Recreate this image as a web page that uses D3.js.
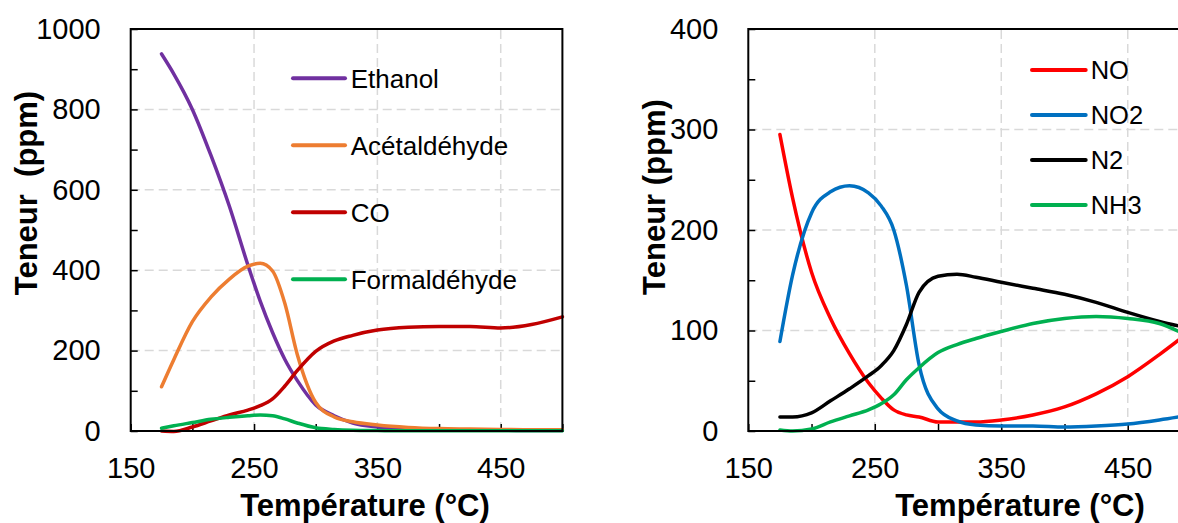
<!DOCTYPE html>
<html>
<head>
<meta charset="utf-8">
<script src="https://cdn.jsdelivr.net/npm/d3@7"></script>
<style>
  html, body { margin: 0; padding: 0; background: #fff; }
  svg { display: block; }
  text { font-family: "Liberation Sans", Arial, sans-serif; fill: #000; }
</style>
</head>
<body>
<svg id="chart" width="1178" height="523"></svg>
<script>
// ---------- data ----------
const temps = [175, 185, 200, 215, 230, 245, 255, 265, 275, 285, 300, 315, 330, 350, 375, 400, 425, 450, 475, 500];

// left panel (ppm)
const ethanol      = [938, 888, 800, 686, 559, 413, 323, 245, 178, 126, 65, 38, 20, 10, 5, 3, 2, 2, 1, 1];
const acetaldehyde = [110, 178, 272, 333, 378, 410, 417, 398, 317, 191, 71, 35, 23, 15, 9, 6, 5, 4, 3, 3];
const co           = [0, -1, 10, 25, 40, 52, 63, 80, 112, 150, 198, 224, 238, 251, 258, 260, 260, 256, 265, 284];
const formaldehyde = [7, 13, 21, 29, 34, 38, 40, 38, 30, 20, 8, 4, 2, 1, 0.5, 0.5, 0.5, 0.5, 0.5, 0.5];

// right panel (ppm)
const no  = [295, 232, 158, 112, 77, 48, 33, 21, 16, 14, 9, 9, 9, 11, 16, 24, 37, 54, 76, 100];
const no2 = [89, 155, 217, 238, 244, 237, 224, 200, 145, 66, 22, 10, 6, 5, 5, 4, 5, 7, 11, 16];
const n2  = [14, 14, 18, 30, 42, 55, 65, 80, 106, 138, 154, 156, 153, 148, 142, 136, 128, 118, 109, 102];
const nh3 = [1, 0, 2, 9, 15, 21, 27, 36, 51, 63, 78, 86, 92, 99, 107, 112, 114, 112, 107, 93];

const leftNames  = ["Ethanol", "Acétaldéhyde", "CO", "Formaldéhyde"];
const rightNames = ["NO", "NO2", "N2", "NH3"];
const leftColors  = ["#7030A0", "#ED7D31", "#C00000", "#00B050"];
const rightColors = ["#FF0000", "#0070C0", "#000000", "#00B050"];

const xTicks = [150, 200, 250, 300, 350, 400, 450, 500];
const xLabels = [150, 250, 350, 450];
const xGrid = [250, 350, 450];
const leftYTicks = [0, 100, 200, 300, 400, 500, 600, 700, 800, 900, 1000];
const leftYLabels = [0, 200, 400, 600, 800, 1000];
const leftYGrid = [200, 400, 600, 800];
const rightYTicks = [0, 50, 100, 150, 200, 250, 300, 350, 400];
const rightYLabels = [0, 100, 200, 300, 400];
const rightYGrid = [100, 200, 300];

const xTitle = "Température (°C)";

// ---------- drawing ----------
const svg = d3.select("#chart");

function panel(cfg) {
  const x = d3.scaleLinear().domain([150, 500]).range(cfg.xr);
  const y = d3.scaleLinear().domain([0, cfg.ymax]).range([431, 29]);
  const g = svg.append("g");

  // grid
  g.selectAll(".vg").data(xGrid).join("line")
    .attr("x1", d => x(d)).attr("x2", d => x(d))
    .attr("y1", y(0)).attr("y2", y(cfg.ymax))
    .attr("stroke", "#d9d9d9").attr("stroke-width", 1.5).attr("stroke-dasharray", "9,5");
  g.selectAll(".hg").data(cfg.yGrid).join("line")
    .attr("x1", x(150)).attr("x2", x(500))
    .attr("y1", d => y(d)).attr("y2", d => y(d))
    .attr("stroke", "#d9d9d9").attr("stroke-width", 1.5).attr("stroke-dasharray", "9,5");

  // axes
  const yAxis = d3.axisLeft(y).tickValues(cfg.yTicks)
    .tickFormat(d => cfg.yLabels.includes(d) ? String(d) : "")
    .tickSizeInner(-7).tickSizeOuter(0).tickPadding(30);
  const ya = g.append("g").attr("transform", `translate(${x(150)},0)`).call(yAxis);
  const xAxis = d3.axisBottom(x).tickValues(xTicks)
    .tickFormat(d => xLabels.includes(d) ? String(d) : "")
    .tickSizeInner(-7).tickSizeOuter(0).tickPadding(26);
  const xa = g.append("g").attr("transform", `translate(0,${y(0)})`).call(xAxis);
  [ya, xa].forEach(a => {
    a.select(".domain").remove();
    a.selectAll(".tick line").attr("stroke", "#000").attr("stroke-width", 1.5);
    a.selectAll(".tick text").attr("font-family", "Liberation Sans, Arial, sans-serif")
      .attr("font-size", 29).attr("fill", "#000");
  });

  // series
  const line = d3.line().x((d, i) => x(temps[i])).y(d => y(d)).curve(d3.curveMonotoneX);
  cfg.series.forEach((s, i) => {
    g.append("path").datum(s).attr("d", line)
      .attr("fill", "none").attr("stroke", cfg.colors[i])
      .attr("stroke-width", 3.5).attr("stroke-linecap", "round").attr("stroke-linejoin", "round");
  });

  // frame
  g.append("rect").attr("x", x(150)).attr("y", y(cfg.ymax))
    .attr("width", x(500) - x(150)).attr("height", y(0) - y(cfg.ymax))
    .attr("fill", "none").attr("stroke", "#000").attr("stroke-width", 2);

  // legend
  cfg.names.forEach((n, i) => {
    const ly = cfg.leg.y0 + i * cfg.leg.dy;
    g.append("line").attr("x1", cfg.leg.x1).attr("x2", cfg.leg.x2)
      .attr("y1", ly).attr("y2", ly)
      .attr("stroke", cfg.colors[i]).attr("stroke-width", 4).attr("stroke-linecap", "round");
    g.append("text").attr("x", cfg.leg.tx).attr("y", ly + 0.358 * cfg.leg.fs)
      .attr("font-size", cfg.leg.fs).text(n);
  });

  // titles
  g.append("text").attr("x", cfg.xt).attr("y", 516).attr("text-anchor", "middle")
    .attr("font-size", 31).attr("font-weight", "bold").text(xTitle);
  g.append("text").attr("transform", `translate(${cfg.yt[0]},${cfg.yt[1]}) rotate(-90)`)
    .attr("text-anchor", "middle").attr("font-size", 31).attr("font-weight", "bold")
    .style("white-space", "pre").text(cfg.ytitle);
}

panel({
  xr: [130.7, 562.4], ymax: 1000,
  yTicks: leftYTicks, yLabels: leftYLabels, yGrid: leftYGrid,
  series: [ethanol, acetaldehyde, co, formaldehyde],
  colors: leftColors, names: leftNames,
  leg: { x1: 293, x2: 345, y0: 78.3, dy: 67, tx: 350.7, fs: 26 },
  xt: 365, yt: [37, 193], ytitle: "Teneur  (ppm)"
});

panel({
  xr: [748.3, 1191], ymax: 400,
  yTicks: rightYTicks, yLabels: rightYLabels, yGrid: rightYGrid,
  series: [no, no2, n2, nh3],
  colors: rightColors, names: rightNames,
  leg: { x1: 1032, x2: 1085.7, y0: 70, dy: 45, tx: 1090.7, fs: 25.5 },
  xt: 1020, yt: [665, 197], ytitle: "Teneur (ppm)"
});
</script>
</body>
</html>
